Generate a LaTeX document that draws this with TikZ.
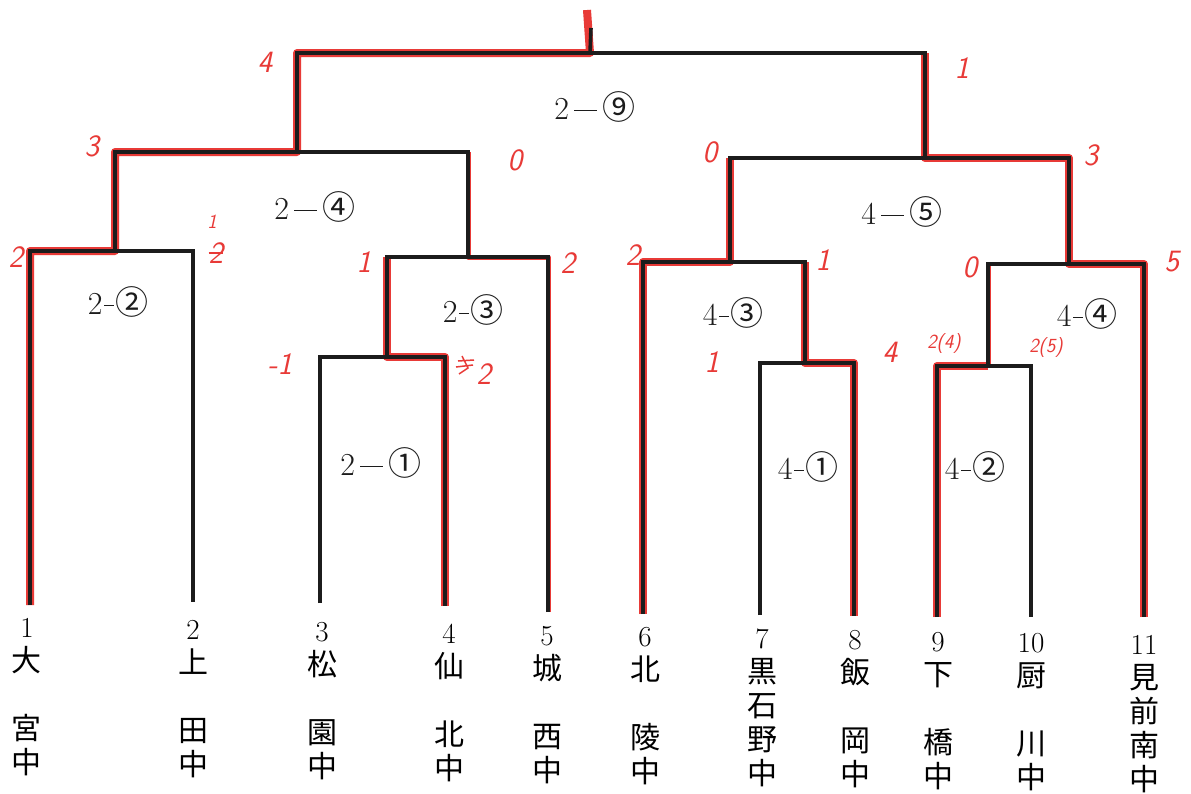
\documentclass[tikz,border=0pt]{standalone}
\usepackage{fontspec}
\newfontfamily\cjk{Noto Sans CJK JP}
\definecolor{pen}{RGB}{232,58,55}
\definecolor{ink}{RGB}{28,28,28}
\newcommand\kj[1]{{\fontsize{30}{34}\selectfont\cjk #1}}
\newcommand\cn[1]{{\fontsize{33}{36}\selectfont\cjk #1}}
\newcommand\ldash{\,\rule[0.28em]{0.72em}{0.9pt}\,}
\newcommand\sdash{\kern1.5pt\rule[0.28em]{0.3em}{1pt}\kern1.5pt}
\newcommand\tlab[6]{\node[teamlab] (n#1) at ({#2},{618+0.015*(#2-27)}) {#1\\\kj{#3}\\\kj{#4}\\\kj{#5}\\\kj{#6}};}
\begin{document}
\begin{tikzpicture}[x=1pt,y=-1pt,
  bk/.style={draw=ink,line width=3.6pt,line join=miter},
  win/.style={draw=pen,line width=8pt,line join=round},
  winthin/.style={draw=pen,line width=5pt,line join=round},
  teamlab/.style={anchor=north,align=center,inner sep=0pt,font=\fontsize{29}{34}\selectfont},
  matchlab/.style={inner sep=0pt,font=\fontsize{32}{36}\selectfont,text=ink},
  score/.style={inner sep=0pt,text=pen,font=\fontsize{31}{31}\selectfont\sffamily\itshape},
  scoresm/.style={inner sep=0pt,text=pen,font=\fontsize{20}{20}\selectfont\sffamily\itshape}]
\path[use as bounding box,fill=white] (0,0) rectangle (1191,793);
% team line ends
\coordinate (t1) at (30,605);
\coordinate (t2) at (193,602);
\coordinate (t3) at (320,603);
\coordinate (t4) at (445,606);
\coordinate (t5) at (548,612);
\coordinate (t6) at (643,614);
\coordinate (t7) at (760,615);
\coordinate (t8) at (854,616);
\coordinate (t9) at (937,617);
\coordinate (t10) at (1031,617);
\coordinate (t11) at (1144,617);
% match junctions
\coordinate (m22) at (115,251);
\coordinate (m21) at (387,357);
\coordinate (m23) at (468,257);
\coordinate (m24) at (297,152);
\coordinate (m41) at (805,363);
\coordinate (m43) at (730,262);
\coordinate (m42) at (988,366);
\coordinate (m44) at (1069,264);
\coordinate (m45) at (925,158);
\coordinate (m9) at (590,53);
\coordinate (top) at (591,28);
\coordinate (topr) at (587,10);
% winner paths
\draw[win] (t1) |- (m22) |- (m24) |- (m9) -- (topr);
\draw[win] (t4) |- (m21) -- (m21 |- m23);
\draw[winthin] (t5) |- (m23) -- (m23 |- m24);
\draw[win] (t8) |- (m41) -- (m41 |- m43);
\draw[win] (t6) |- (m43) -- (m43 |- m45);
\draw[win] (t9) |- (m42);
\draw[winthin] (m42) -- (m42 |- m44);
\draw[win] (t11) |- (m44) |- (m45) -- (m45 |- m9);
% bracket
\draw[bk] (t1) |- (m22) -| (t2);
\draw[bk] (t3) |- (m21) -| (t4);
\draw[bk] (m21) |- (m23) -| (t5);
\draw[bk] (m22) |- (m24) -| (m23);
\draw[bk] (t7) |- (m41) -| (t8);
\draw[bk] (t6) |- (m43) -| (m41);
\draw[bk] (t9) |- (m42) -| (t10);
\draw[bk] (m42) |- (m44) -| (t11);
\draw[bk] (m43) |- (m45) -| (m44);
\draw[bk] (m24) |- (m9) -| (m45);
\draw[bk] (m9) -- (top);
% match labels
\node[matchlab] (l29) at (595,107) {2\ldash\cn{⑨}};
\node[matchlab] (l24) at (315,207) {2\ldash\cn{④}};
\node[matchlab] (l22) at (118,302) {2\sdash\cn{②}};
\node[matchlab] (l23) at (473,310) {2\sdash\cn{③}};
\node[matchlab] (l21) at (381,463) {2\ldash\cn{①}};
\node[matchlab] (l45) at (902,212) {4\ldash\cn{⑤}};
\node[matchlab] (l43) at (733,313) {4\sdash\cn{③}};
\node[matchlab] (l44) at (1087,314) {4\sdash\cn{④}};
\node[matchlab] (l41) at (808,467) {4\sdash\cn{①}};
\node[matchlab] (l42) at (975,467) {4\sdash\cn{②}};
% team labels
\tlab{1}{27}{大}{~}{宮}{中}
\tlab{2}{193}{上}{~}{田}{中}
\tlab{3}{322}{松}{~}{園}{中}
\tlab{4}{449}{仙}{~}{北}{中}
\tlab{5}{547}{城}{~}{西}{中}
\tlab{6}{645}{北}{~}{陵}{中}
\tlab{7}{762}{黒}{石}{野}{中}
\tlab{8}{855}{飯}{~}{岡}{中}
\tlab{9}{938}{下}{~}{橋}{中}
\tlab{10}{1031}{厨}{~}{川}{中}
\tlab{11}{1144}{見}{前}{南}{中}
% scores
\node[score] (s9a) at (265,62) {4};
\node[score] (s9b) at (962,68) {1};
\node[score] (s24a) at (92,146) {3};
\node[score] (s24b) at (515,160) {0};
\node[score] (s22a) at (16,257) {2};
\node[scoresm] (s22b) at (212,222) {1};
\node[score] (s22c) at (216,253) {2};
\draw[pen,line width=1.5pt] (s22c.west) -- (s22c.east);
\node[score] (s23a) at (364,262) {1};
\node[score] (s23b) at (568,263) {2};
\node[score] (s21a) at (280,364) {-1};
\node[score] (s21b) at (484,374) {2};
\draw[pen,line width=1.5pt] (458,361) -- (474,360) (462,356) -- (468,368) -- (459,374) (456,367) -- (473,365);
\node[score] (s45a) at (710,152) {0};
\node[score] (s45b) at (1091,155) {3};
\node[score] (s43a) at (633,255) {2};
\node[score] (s43b) at (823,260) {1};
\node[score] (s41a) at (712,362) {1};
\node[score] (s41b) at (890,352) {4};
\node[scoresm] (s42a) at (944,344) {2(4)};
\node[scoresm] (s42b) at (1046,348) {2(5)};
\node[score] (s44a) at (970,267) {0};
\node[score] (s44b) at (1172,262) {5};
\end{tikzpicture}
\end{document}
